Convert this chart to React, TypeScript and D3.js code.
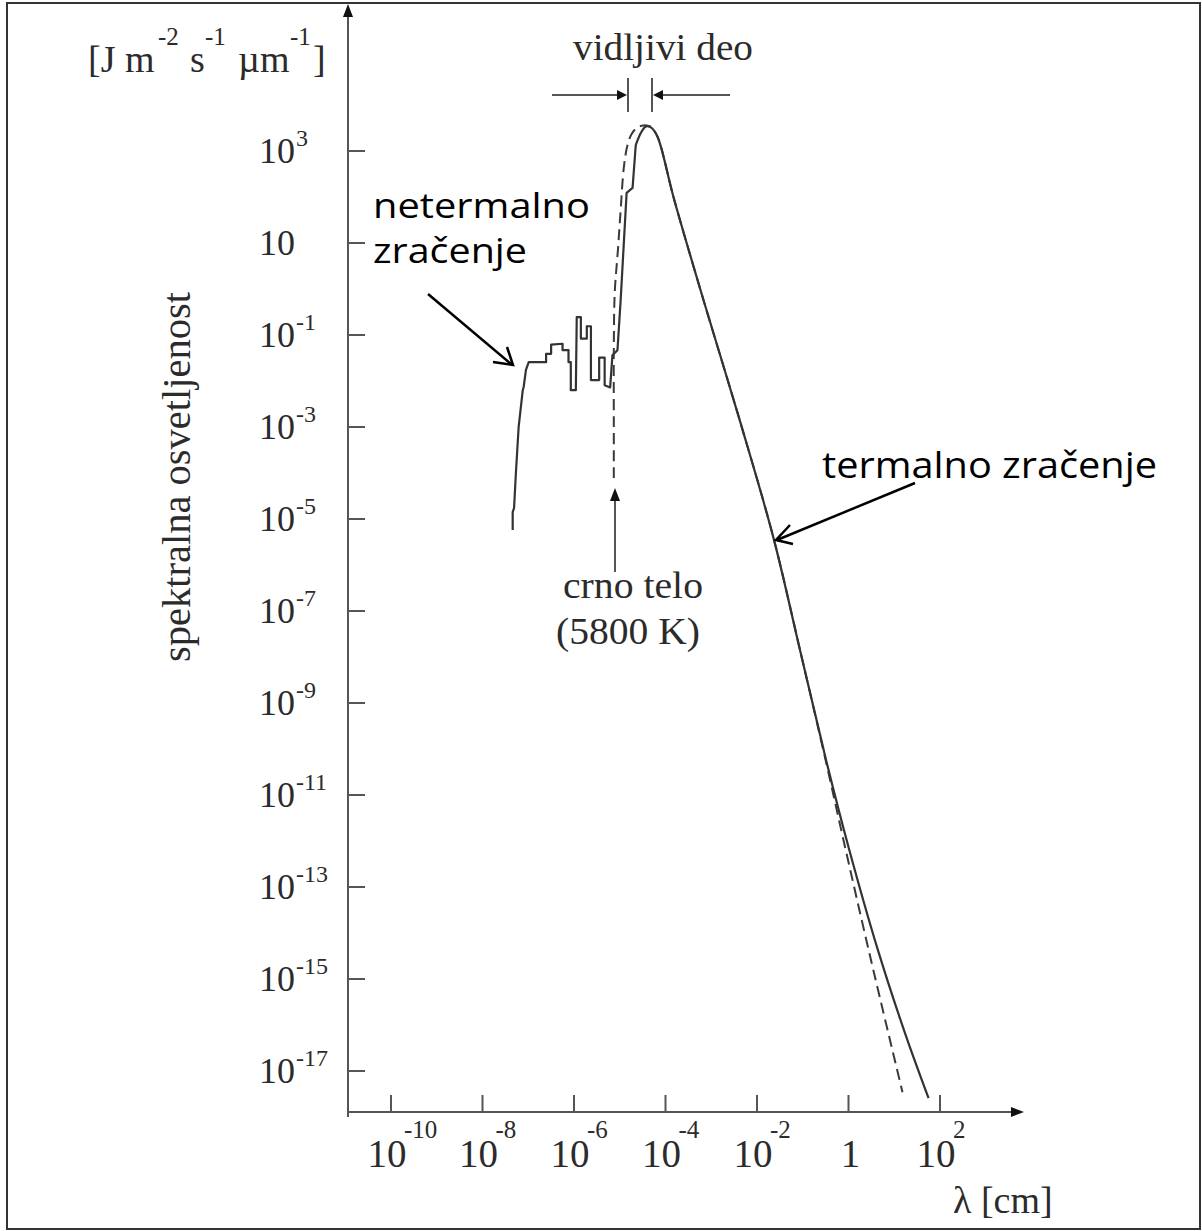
import React from "react";
import * as d3 from "d3";

// exponents: [log10 λ (cm), log10 F]
// nonthermal part + rising edge (drawn with straight segments)
const solidRise: [number, number][] = [
  [-7.34, -5.24], [-7.34, -4.85], [-7.31, -4.76], [-7.27, -4.0], [-7.21, -3.0],
  [-7.12, -2.2], [-7.1, -2.13], [-7.05, -1.76], [-6.99, -1.59], [-6.61, -1.59],
  [-6.61, -1.41], [-6.5, -1.41], [-6.5, -1.21], [-6.25, -1.19], [-6.25, -1.33],
  [-6.12, -1.33], [-6.12, -1.59], [-6.07, -1.59], [-6.07, -2.2], [-5.96, -2.2],
  [-5.94, -0.61], [-5.85, -0.61], [-5.85, -1.08], [-5.72, -1.08], [-5.72, -0.81],
  [-5.63, -0.81], [-5.63, -1.98], [-5.45, -1.98], [-5.45, -1.49], [-5.33, -1.49],
  [-5.33, -2.09], [-5.21, -2.14], [-5.16, -1.44], [-5.05, -1.33], [-4.98, -0.24],
  [-4.85, 2.09], [-4.72, 2.2], [-4.65, 3.13],
];
// peak and thermal tail (smooth)
const solidTail: [number, number][] = [
  [-4.65, 3.13], [-4.54, 3.39], [-4.45, 3.52], [-4.39, 3.54], [-4.3, 3.5],
  [-4.17, 3.3], [-3.82, 1.98], [-3.17, -0.24], [-2.36, -2.91], [-1.64, -5.41],
  [-1.05, -7.89], [-0.48, -10.28], [0.0, -12.13], [0.63, -14.33], [1.25, -16.22],
  [1.75, -17.59],
];

const blackBody: [number, number][] = [
  [-5.13, -4.11], [-5.13, -2.85], [-5.13, -1.33], [-5.11, -0.09], [-5.04, 0.85],
  [-4.98, 1.72], [-4.91, 2.65], [-4.83, 3.13], [-4.74, 3.37], [-4.63, 3.5],
  [-4.52, 3.55], [-4.39, 3.55], [-4.3, 3.5], [-4.17, 3.3], [-3.82, 1.98],
  [-3.17, -0.24], [-2.36, -2.91], [-1.64, -5.41], [-1.05, -7.89], [-0.48, -10.33],
  [-0.13, -11.89], [0.48, -14.54], [1.18, -17.46],
];

const xTickExps = [-10, -8, -6, -4, -2, 0, 2];
const yTickExps = [3, 1, -1, -3, -5, -7, -9, -11, -13, -15, -17];

const serif = "'Liberation Serif', 'DejaVu Serif', serif";
const sans = "'Open Sans', 'Noto Sans', sans-serif";
const ink = "#2b2b2b";
const axisCol = "#555";

export default function App() {
  const x = d3.scaleLog().domain([1e-10, 1e2]).range([391, 940]);
  const y = d3.scaleLog().domain([1e3, 1e-17]).range([151, 1071]);
  const px = (d: [number, number]) => x(Math.pow(10, d[0]));
  const py = (d: [number, number]) => y(Math.pow(10, d[1]));
  const straight = d3.line<[number, number]>().x(px).y(py);
  const smooth = d3
    .line<[number, number]>()
    .x(px)
    .y(py)
    .curve(d3.curveCatmullRom.alpha(0.5));

  const axisX0 = 348;
  const axisY0 = 1112;

  return (
    <svg
      width={1202}
      height={1231}
      style={{ position: "absolute", left: 0, top: 0, background: "#fff" }}
    >
      <rect x={0} y={0} width={1202} height={1231} fill="#fff" />
      <rect x={7} y={3} width={1193} height={1226} fill="none" stroke="#333" strokeWidth={2} />

      {/* axes */}
      <line x1={axisX0} y1={1117} x2={axisX0} y2={14} stroke={axisCol} strokeWidth={2} />
      <path d={`M${axisX0},4 L${axisX0 - 5},17 L${axisX0 + 5},17 Z`} fill="#111" />
      <line x1={axisX0} y1={axisY0} x2={1014} y2={axisY0} stroke={axisCol} strokeWidth={2} />
      <path d={`M1024,${axisY0} L1011,${axisY0 - 5} L1011,${axisY0 + 5} Z`} fill="#111" />

      {/* y ticks */}
      {yTickExps.map((e) => {
        const ty = y(Math.pow(10, e));
        return (
          <g key={"y" + e}>
            <line x1={axisX0} y1={ty} x2={axisX0 + 17} y2={ty} stroke={axisCol} strokeWidth={2} />
            <text x={259} y={ty + 12} fontFamily={serif} fontSize={36} fill={ink}>
              10
            </text>
            {e !== 1 && (
              <text x={296} y={ty - 5} fontFamily={serif} fontSize={24} fill={ink}>
                {e < 0 ? "-" + Math.abs(e) : String(e)}
              </text>
            )}
          </g>
        );
      })}

      {/* x ticks */}
      {xTickExps.map((e) => {
        const tx = x(Math.pow(10, e));
        return (
          <g key={"x" + e}>
            <line x1={tx} y1={axisY0} x2={tx} y2={axisY0 - 17} stroke={axisCol} strokeWidth={2} />
            {e === 0 ? (
              <text x={tx + 2} y={1167} textAnchor="middle" fontFamily={serif} fontSize={39} fill={ink}>
                1
              </text>
            ) : (
              <>
                <text x={tx - 4} y={1167} textAnchor="middle" fontFamily={serif} fontSize={39} fill={ink}>
                  10
                </text>
                <text x={tx + 13} y={1138} fontFamily={serif} fontSize={25} fill={ink}>
                  {e < 0 ? "-" + Math.abs(e) : String(e)}
                </text>
              </>
            )}
          </g>
        );
      })}

      {/* axis titles */}
      <text x={953} y={1213} fontFamily={serif} fontSize={38} fill={ink}>
        λ [cm]
      </text>
      <text x={88} y={72} fontFamily={serif} fontSize={38} fill={ink}>[J m</text>
      <text x={158} y={45} fontFamily={serif} fontSize={25} fill={ink}>-2</text>
      <text x={190} y={72} fontFamily={serif} fontSize={38} fill={ink}>s</text>
      <text x={205} y={45} fontFamily={serif} fontSize={25} fill={ink}>-1</text>
      <text x={238} y={72} fontFamily={serif} fontSize={38} fill={ink}>µm</text>
      <text x={290} y={45} fontFamily={serif} fontSize={25} fill={ink}>-1</text>
      <text x={313} y={72} fontFamily={serif} fontSize={38} fill={ink}>]</text>
      <text
        transform="translate(190,477) rotate(-90)"
        textAnchor="middle"
        fontFamily={serif}
        fontSize={40}
        fill={ink}
        textLength={370}
        lengthAdjust="spacingAndGlyphs"
      >
        spektralna osvetljenost
      </text>

      {/* curves */}
      <path d={smooth(blackBody) || ""} fill="none" stroke="#3a3a3a" strokeWidth={2} strokeDasharray="11,6" />
      <path d={straight(solidRise) || ""} fill="none" stroke="#333" strokeWidth={2.2} strokeLinejoin="round" />
      <path d={smooth(solidTail) || ""} fill="none" stroke="#333" strokeWidth={2.2} strokeLinejoin="round" />

      {/* visible band annotation */}
      <text x={573} y={60} fontFamily={serif} fontSize={38} fill={ink} textLength={180} lengthAdjust="spacingAndGlyphs">
        vidljivi deo
      </text>
      <line x1={628} y1={78} x2={628} y2={112} stroke={axisCol} strokeWidth={2} />
      <line x1={652} y1={78} x2={652} y2={112} stroke={axisCol} strokeWidth={2} />
      <line x1={552} y1={95} x2={619} y2={95} stroke={axisCol} strokeWidth={2} />
      <path d="M627,95 L617,90 L617,100 Z" fill="#111" />
      <line x1={730} y1={95} x2={661} y2={95} stroke={axisCol} strokeWidth={2} />
      <path d="M653,95 L663,90 L663,100 Z" fill="#111" />

      {/* black body annotation */}
      <line x1={615} y1={572} x2={615} y2={500} stroke={axisCol} strokeWidth={2} />
      <path d="M615,488 L610,501 L620,501 Z" fill="#111" />
      <text x={563} y={598} fontFamily={serif} fontSize={38} fill={ink} textLength={140} lengthAdjust="spacingAndGlyphs">
        crno telo
      </text>
      <text x={556} y={644} fontFamily={serif} fontSize={38} fill={ink} textLength={144} lengthAdjust="spacingAndGlyphs">
        (5800 K)
      </text>

      {/* nonthermal */}
      <text x={373} y={218} fontFamily={sans} fontSize={35} fill="#000" textLength={217} lengthAdjust="spacingAndGlyphs">
        netermalno
      </text>
      <text x={373} y={263} fontFamily={sans} fontSize={35} fill="#000" textLength={154} lengthAdjust="spacingAndGlyphs">
        zračenje
      </text>
      <line x1={428} y1={294} x2={511} y2={364} stroke="#000" strokeWidth={2.5} />
      <path d="M493,362 L513,365 L507,347" fill="none" stroke="#000" strokeWidth={2.5} />

      {/* thermal */}
      <text x={822} y={478} fontFamily={sans} fontSize={36} fill="#000" textLength={335} lengthAdjust="spacingAndGlyphs">
        termalno zračenje
      </text>
      <line x1={915} y1={483} x2={777} y2={540} stroke="#000" strokeWidth={2.5} />
      <path d="M790,525 L776,540 L793,544" fill="none" stroke="#000" strokeWidth={2.5} />
    </svg>
  );
}
